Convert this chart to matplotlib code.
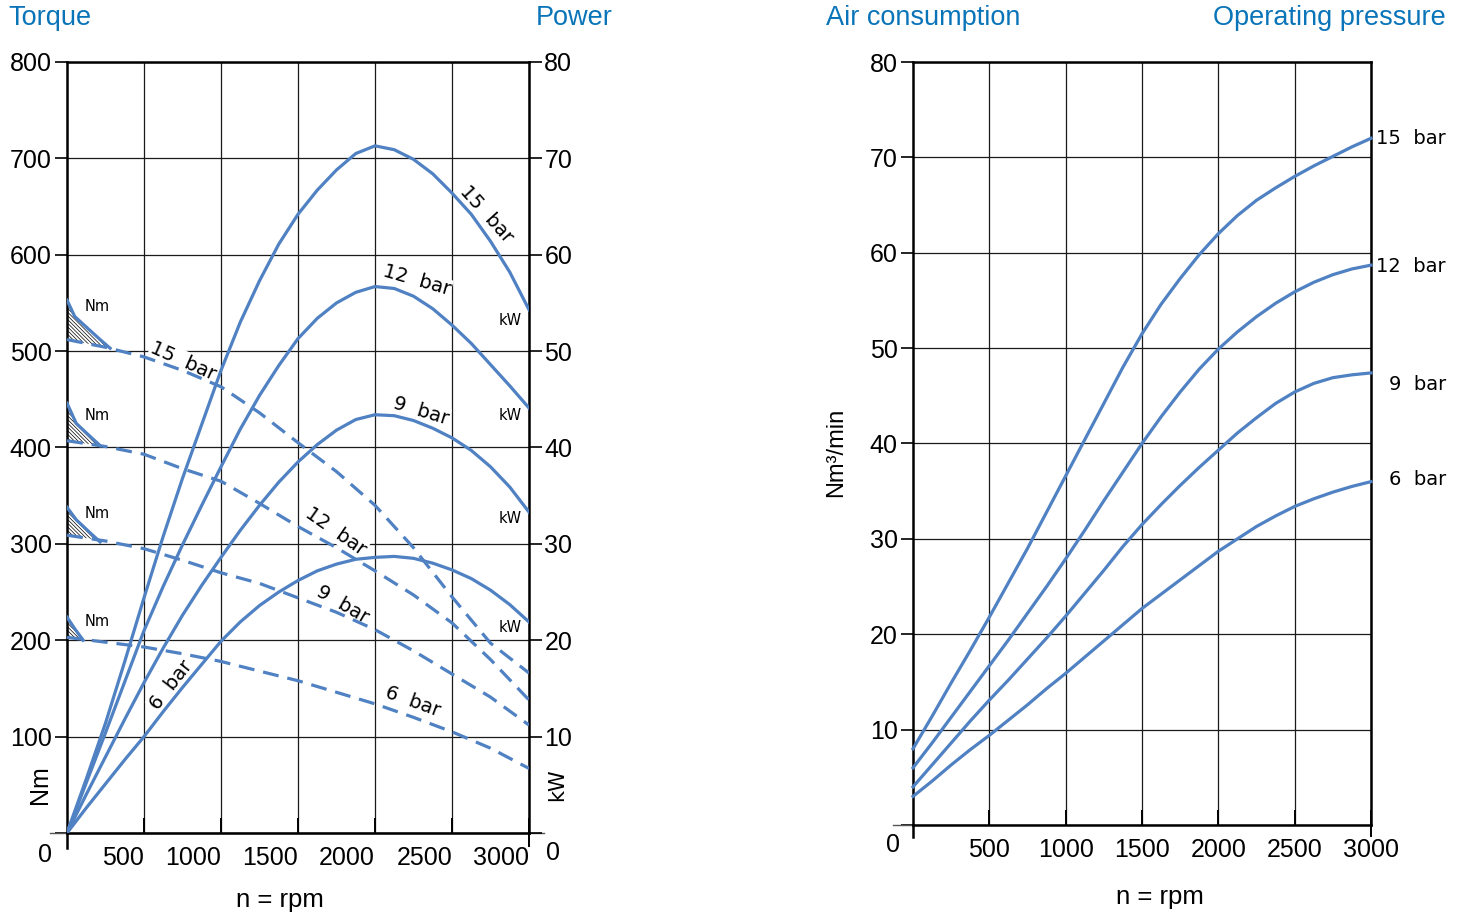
import numpy as np
import matplotlib
matplotlib.use('Agg')
import matplotlib.pyplot as plt

plt.rcParams['font.family'] = ['Liberation Sans', 'DejaVu Sans']
plt.rcParams['hatch.linewidth'] = 0.5

# speed axes (rpm)
rpm = [0, 250, 500, 750, 1000, 1250, 1500, 1750, 2000, 2250, 2500, 2750, 3000]
rpm_fine = [0, 125, 250, 375, 500, 625, 750, 875, 1000, 1125, 1250, 1375, 1500,
            1625, 1750, 1875, 2000, 2125, 2250, 2375, 2500, 2625, 2750, 2875, 3000]
pressures = ['15', '12', '9', '6']

# power in kW (solid curves, left chart)
power = {
    '15': [0, 5.6, 11.4, 17.8, 24.4, 30.8, 36.8, 42.4, 48.0, 53.0, 57.3, 61.1, 64.2,
           66.7, 68.8, 70.5, 71.3, 70.9, 69.9, 68.4, 66.4, 64.2, 61.4, 58.2, 54.3],
    '12': [0, 5.2, 10.4, 15.7, 21.0, 25.6, 29.9, 34.0, 38.0, 41.9, 45.4, 48.5, 51.3,
           53.4, 55.0, 56.1, 56.7, 56.5, 55.7, 54.4, 52.7, 50.8, 48.6, 46.4, 44.1],
    '9': [0, 4.0, 7.9, 11.8, 15.6, 19.2, 22.6, 25.7, 28.6, 31.4, 34.0, 36.4, 38.5,
          40.3, 41.8, 42.9, 43.4, 43.3, 42.8, 42.0, 41.0, 39.7, 38.0, 35.9, 33.3],
    '6': [0, 2.6, 5.1, 7.6, 10.0, 12.6, 15.1, 17.5, 19.9, 21.9, 23.6, 25.0, 26.2,
          27.2, 27.9, 28.4, 28.6, 28.7, 28.5, 28.0, 27.3, 26.4, 25.2, 23.7, 21.9],
}

# torque in Nm (dashed curves, left chart)
torque = {
    '15': [512, 504, 494, 480, 463, 436, 405, 375, 340, 296, 245, 197, 166],
    '12': [407, 401, 393, 378, 365, 342, 318, 296, 272, 247, 218, 180, 138],
    '9': [309, 303, 295, 283, 270, 259, 244, 229, 211, 189, 165, 141, 112],
    '6': [203, 198, 193, 186, 178, 168, 158, 146, 134, 120, 105, 88, 67],
}

# breakaway torque at start (hatched)
brk_rpm = {'15': [0, 50, 125, 215, 280], '12': [0, 60, 140, 215],
           '9': [0, 60, 140, 215], '6': [0, 50, 105]}
brk_nm = {'15': [553, 536, 525, 512, 503], '12': [446, 425, 413, 402],
          '9': [338, 325, 313, 302], '6': [224, 212, 200]}

# air consumption Nm3/min (right chart)
air = {
    '15': [8.0, 11.4, 14.9, 18.3, 21.8, 25.4, 29.0, 32.8, 36.6, 40.4, 44.2, 48.0, 51.5,
           54.6, 57.3, 59.8, 62.0, 63.9, 65.5, 66.8, 68.0, 69.1, 70.1, 71.1, 72.0],
    '12': [6.0, 8.6, 11.3, 14.0, 16.7, 19.4, 22.2, 25.0, 27.9, 30.9, 34.0, 37.0, 40.0,
           42.8, 45.4, 47.8, 49.9, 51.7, 53.3, 54.7, 55.9, 56.9, 57.7, 58.3, 58.7],
    '9': [4.0, 6.3, 8.6, 10.9, 13.1, 15.2, 17.4, 19.6, 21.9, 24.3, 26.7, 29.2, 31.5,
          33.6, 35.6, 37.5, 39.3, 41.1, 42.7, 44.2, 45.4, 46.3, 46.9, 47.2, 47.4],
    '6': [3.0, 4.6, 6.3, 7.9, 9.4, 11.0, 12.6, 14.3, 15.9, 17.6, 19.3, 21.0, 22.7,
          24.2, 25.7, 27.2, 28.7, 30.0, 31.3, 32.4, 33.4, 34.2, 34.9, 35.5, 36.0],
}
air_label_y = {'15': 72.0, '12': 58.6, '9': 46.2, '6': 36.2}

xticks = [500, 1000, 1500, 2000, 2500, 3000]

blue = '#4f81c3'
title_blue = '#0a74b9'
lw = 2.3
dash = (0, (5, 2.8))
lab_font = 'DejaVu Sans'
tick_fs = 18

W, H = 1467, 913
fig = plt.figure(figsize=(W / 100, H / 100), dpi=100)


def style_frame(ax):
    for s in ax.spines.values():
        s.set_linewidth(1.8)
        s.set_color('black')
    ax.grid(True, color='#1a1a1a', lw=0.9)
    ax.set_axisbelow(True)
    ax.tick_params(axis='x', direction='in', length=11, width=1.4, labelsize=tick_fs, pad=9)
    ax.tick_params(axis='y', direction='out', length=9, width=1.2, labelsize=tick_fs, pad=2)


# ---------------- left chart: torque / power ----------------
ax1 = fig.add_axes([67 / W, 1 - 833 / H, 462 / W, 771 / H])
ax1.set_xlim(0, 3000)
ax1.set_ylim(0, 800)
style_frame(ax1)
ax1.set_xticks(xticks)
ax1.set_xticklabels([str(t) for t in xticks], ha='right')
ax1.set_yticks(range(0, 801, 100))
ax1.set_yticklabels([''] + [str(v) for v in range(100, 801, 100)])

ax1b = ax1.twinx()
ax1b.set_ylim(0, 80)
for s in ax1b.spines.values():
    s.set_visible(False)
ax1b.set_yticks(range(0, 81, 10))
ax1b.set_yticklabels([''] + [str(v) for v in range(10, 81, 10)])
ax1b.tick_params(axis='y', direction='out', length=9, width=1.2, labelsize=tick_fs, pad=2)

for p in pressures:
    ax1.plot(rpm, torque[p], color=blue, lw=lw, ls=dash, zorder=3)
    ax1b.plot(rpm_fine, power[p], color=blue, lw=lw, zorder=3)
    lower = np.interp(brk_rpm[p], rpm, torque[p])
    ax1.fill_between(brk_rpm[p], brk_nm[p], lower, facecolor='none',
                     edgecolor='black', hatch='\\' * 9, lw=0, zorder=2)
    ax1.plot(brk_rpm[p], brk_nm[p], color=blue, lw=lw, zorder=3)

# extended axis lines below / beside the frame
ax1.plot([-110, 3100], [0, 0], color='#555555', lw=1.0, clip_on=False, zorder=1)
ax1.plot([0, 0], [-16, 0], color='black', lw=1.8, clip_on=False)
ax1.plot([3000, 3000], [-14, 0], color='black', lw=1.4, clip_on=False)

lbl = dict(fontsize=14, family=lab_font, ha='center', va='center', zorder=2.5,
           bbox=dict(facecolor='white', edgecolor='none', pad=0.5))
# torque labels (dashed)
ax1.text(755, 490, '15  bar', rotation=-24, **lbl)
ax1.text(1745, 313, '12  bar', rotation=-35, **lbl)
ax1.text(1789, 237, '9  bar', rotation=-30, **lbl)
ax1.text(2244, 136, '6  bar', rotation=-20, **lbl)
# power labels (solid)
ax1.text(2725, 642, '15  bar', rotation=-48, **lbl)
ax1.text(2271, 573, '12  bar', rotation=-16, **lbl)
ax1.text(2299, 438, '9  bar', rotation=-17, **lbl)
ax1.text(675, 153, '6  bar', rotation=52, **lbl)

for y in [546, 433, 332, 219]:
    ax1.text(195, y, 'Nm', fontsize=10.5, family=lab_font, ha='center', va='center')
for y in [532, 433, 326, 213]:
    ax1.text(2880, y, 'kW', fontsize=10.5, family=lab_font, ha='center', va='center')

fig.text(45 / W, 1 - 855 / H, '0', fontsize=tick_fs, ha='center', va='center')
fig.text(553 / W, 1 - 853 / H, '0', fontsize=tick_fs, ha='center', va='center')
fig.text(40 / W, 1 - 785 / H, 'Nm', fontsize=18, rotation=90, ha='center', va='center')
fig.text(557 / W, 1 - 785 / H, 'kW', fontsize=15, family=lab_font, rotation=90,
         ha='center', va='center')
fig.text(280 / W, 1 - 900 / H, 'n = rpm', fontsize=18.5, ha='center', va='center')
fig.text(8 / W, 1 - 18 / H, 'Torque', fontsize=19.5, color=title_blue, ha='left', va='center')
fig.text(613 / W, 1 - 18 / H, 'Power', fontsize=19.5, color=title_blue, ha='right', va='center')

# ---------------- right chart: air consumption ----------------
ax2 = fig.add_axes([913 / W, 1 - 825 / H, 458 / W, 763 / H])
ax2.set_xlim(0, 3000)
ax2.set_ylim(0, 80)
style_frame(ax2)
ax2.set_xticks(xticks)
ax2.set_xticklabels([str(t) for t in xticks])
ax2.set_yticks(range(0, 81, 10))
ax2.set_yticklabels([''] + [str(v) for v in range(10, 81, 10)])

for p in pressures:
    ax2.plot(rpm_fine, air[p], color=blue, lw=lw, zorder=3, clip_on=False)
    ax2.text(3490, air_label_y[p], p + '  bar', fontsize=14, family=lab_font,
             ha='right', va='center', clip_on=False)

ax2.plot([-130, 0], [0, 0], color='#555555', lw=1.0, clip_on=False, zorder=1)
ax2.plot([0, 0], [-1.3, 0], color='black', lw=1.8, clip_on=False)
ax2.plot([3000, 3000], [-1.2, 0], color='black', lw=1.4, clip_on=False)

fig.text(893 / W, 1 - 845 / H, '0', fontsize=tick_fs, ha='center', va='center')
fig.text(836 / W, 1 - 452 / H, 'Nm³/min', fontsize=17, rotation=90, ha='center', va='center')
fig.text(1160 / W, 1 - 897 / H, 'n = rpm', fontsize=18.5, ha='center', va='center')
fig.text(826 / W, 1 - 18 / H, 'Air consumption', fontsize=19.5, color=title_blue,
         ha='left', va='center')
fig.text(1446 / W, 1 - 18 / H, 'Operating pressure', fontsize=19.5, color=title_blue,
         ha='right', va='center')

fig.savefig('out.png', dpi=100)
